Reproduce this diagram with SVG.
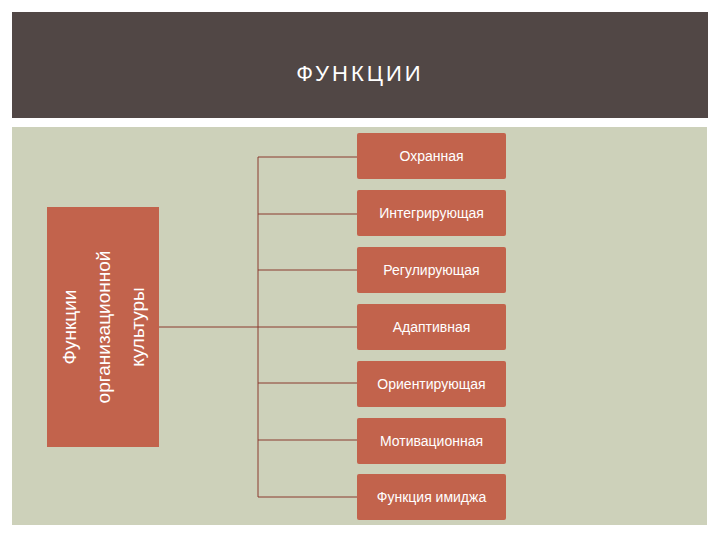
<svg xmlns="http://www.w3.org/2000/svg" width="720" height="540" viewBox="0 0 720 540">
<style>
.box{fill:#c2634c;}
.t{font-family:"Liberation Sans",Arial,sans-serif;fill:#ffffff;font-size:14px;text-anchor:middle;dominant-baseline:central;}
.big{font-size:19px;}
.ln{stroke:#8a3a2e;stroke-width:1;fill:none;}
</style>
<rect width="720" height="540" fill="#ffffff"/>
<rect x="12" y="12" width="696" height="106" fill="#514745"/>
<text x="360" y="73" class="t" style="font-size:22px;letter-spacing:3px">ФУНКЦИИ</text>
<rect x="12" y="127" width="695" height="398" fill="#cdd1ba"/>
<g id="connectors" class="ln">
<path d="M159 327H258M258 157V497M258 157H357M258 214H357M258 270H357M258 327H357M258 383H357M258 440H357M258 497H357"/>
</g>
<g id="root">
<rect class="box" x="47" y="207" width="112" height="240"/>
<g transform="translate(103 327) rotate(-90)">
<text class="t big" x="0" y="-34">Функции</text>
<text class="t big" x="0" y="0">организационной</text>
<text class="t big" x="0" y="34">культуры</text>
</g>
</g>
<g id="n1"><rect class="box" x="357" y="133" width="149" height="46" rx="2"/><text class="t" x="431.5" y="156">Охранная</text></g>
<g id="n2"><rect class="box" x="357" y="190" width="149" height="46" rx="2"/><text class="t" x="431.5" y="213">Интегрирующая</text></g>
<g id="n3"><rect class="box" x="357" y="247" width="149" height="46" rx="2"/><text class="t" x="431.5" y="270">Регулирующая</text></g>
<g id="n4"><rect class="box" x="357" y="304" width="149" height="46" rx="2"/><text class="t" x="431.5" y="327">Адаптивная</text></g>
<g id="n5"><rect class="box" x="357" y="361" width="149" height="46" rx="2"/><text class="t" x="431.5" y="384">Ориентирующая</text></g>
<g id="n6"><rect class="box" x="357" y="418" width="149" height="46" rx="2"/><text class="t" x="431.5" y="441">Мотивационная</text></g>
<g id="n7"><rect class="box" x="357" y="474" width="149" height="46" rx="2"/><text class="t" x="431.5" y="497">Функция имиджа</text></g>
</svg>
